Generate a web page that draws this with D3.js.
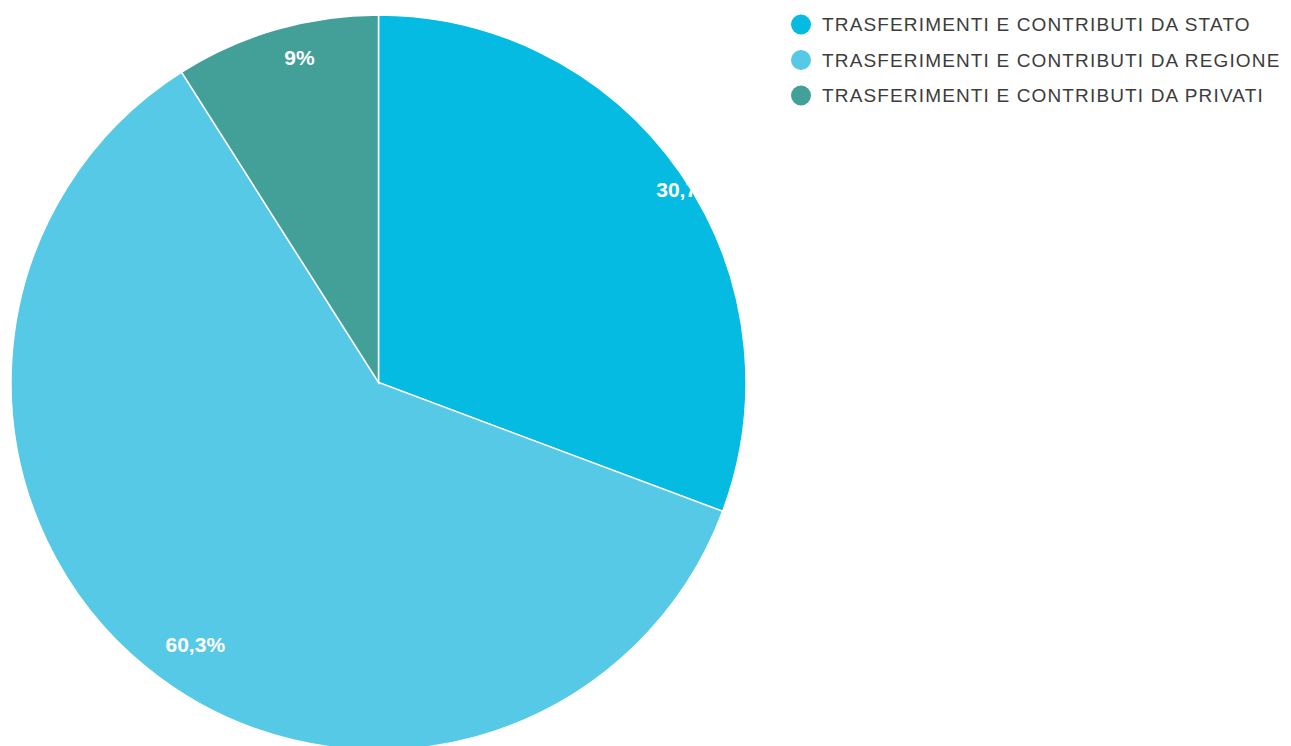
<!DOCTYPE html>
<html>
<head>
<meta charset="utf-8">
<script src="https://cdn.jsdelivr.net/npm/d3@7"></script>
<style>
  html, body { margin: 0; padding: 0; background: #fff; }
  svg { display: block; }
</style>
</head>
<body>
<div id="chart"></div>
<script>
// pie chart of transfer sources, labels inside slices, legend on the right

const categories = [
  "TRASFERIMENTI E CONTRIBUTI DA STATO",
  "TRASFERIMENTI E CONTRIBUTI DA REGIONE",
  "TRASFERIMENTI E CONTRIBUTI DA PRIVATI"
];
const values = [30.7, 60.3, 9];
const colors = ["#05bbe2", "#55c9e5", "#42a099"];

const width = 1291;
const height = 746;
const cx = 378.5;
const cy = 382.5;
const radius = 367.5;
const labelRadius = 338;

const svg = d3.select("#chart").append("svg")
    .attr("width", width)
    .attr("height", height)
    .attr("viewBox", [0, 0, width, height]);

const color = d3.scaleOrdinal(categories, colors);

const pie = d3.pie().sort(null).value(d => d.value);
const arcs = pie(categories.map((c, i) => ({name: c, value: values[i]})));

const arc = d3.arc().innerRadius(0).outerRadius(radius);

const g = svg.append("g")
    .attr("transform", `translate(${cx},${cy})`);

g.selectAll("path")
  .data(arcs)
  .join("path")
    .attr("d", arc)
    .attr("fill", d => color(d.data.name))
    .attr("stroke", "#fff")
    .attr("stroke-width", 1.5);

// labels start at a fixed radius along the slice mid-angle
const fmt = v => String(v).replace(".", ",") + "%";

g.selectAll("text")
  .data(arcs)
  .join("text")
    .attr("x", d => Math.sin((d.startAngle + d.endAngle) / 2) * labelRadius)
    .attr("y", d => -Math.cos((d.startAngle + d.endAngle) / 2) * labelRadius)
    .attr("dy", "0.35em")
    .attr("fill", "#fff")
    .attr("font-family", "'Liberation Sans', Arial, sans-serif")
    .attr("font-weight", "bold")
    .attr("font-size", 21)
    .text(d => fmt(d.data.value));

// legend
const legend = svg.append("g")
    .attr("transform", "translate(801,24.5)");

const item = legend.selectAll("g")
  .data(categories)
  .join("g")
    .attr("transform", (d, i) => `translate(0,${i * 35.5})`);

item.append("circle")
    .attr("r", 10)
    .attr("fill", d => color(d));

item.append("text")
    .attr("x", 21)
    .attr("dy", "0.35em")
    .attr("fill", "#3c3c3c")
    .attr("font-family", "'Liberation Sans', Arial, sans-serif")
    .attr("font-size", 19)
    .attr("letter-spacing", 1.15)
    .text(d => d);
</script>
</body>
</html>
